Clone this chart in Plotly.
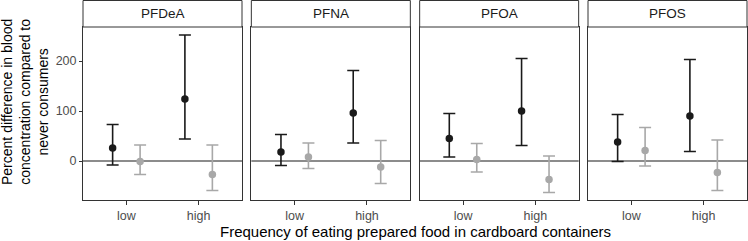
import plotly.graph_objects as go

# ---- data ----
pollutants = ["PFDeA", "PFNA", "PFOA", "PFOS"]
categories = ["low", "high"]
y_ticks = [0, 100, 200]

# series A (black) estimates, lower and upper bounds per pollutant, [low, high]
a_est = {"PFDeA": [26, 124], "PFNA": [18, 96], "PFOA": [45, 100], "PFOS": [38, 90]}
a_lo = {"PFDeA": [-8, 44], "PFNA": [-9, 36], "PFOA": [8, 31], "PFOS": [-1, 19]}
a_hi = {"PFDeA": [73, 252], "PFNA": [53, 181], "PFOA": [95, 205], "PFOS": [93, 203]}

# series B (grey)
b_est = {"PFDeA": [-1, -27], "PFNA": [8, -12], "PFOA": [3, -37], "PFOS": [21, -23]}
b_lo = {"PFDeA": [-27, -59], "PFNA": [-15, -45], "PFOA": [-22, -63], "PFOS": [-10, -59]}
b_hi = {"PFDeA": [32, 32], "PFNA": [36, 41], "PFOA": [35, 10], "PFOS": [67, 42]}

colors = {"a": "#1a1a1a", "b": "#a8a8a8"}
dodge = 0.19

W, H = 748, 241
L, R, T, B = 83, 1, 27, 41
pw = W - L - R
ph = H - T - B
panel_w = 159
gap = (pw - 4 * panel_w) / 3

fig = go.Figure()
shapes = []
annotations = []

for i, p in enumerate(pollutants):
    ax = "" if i == 0 else str(i + 1)
    x0 = i * (panel_w + gap) / pw
    x1 = x0 + panel_w / pw
    base = list(range(1, len(categories) + 1))
    for key, est, lo, hi, off in [("a", a_est, a_lo, a_hi, -dodge), ("b", b_est, b_lo, b_hi, dodge)]:
        e = est[p]
        fig.add_trace(go.Scatter(
            x=[b + off for b in base], y=e,
            mode="markers",
            marker=dict(color=colors[key], size=7.5),
            error_y=dict(type="data", symmetric=False,
                         array=[h - v for h, v in zip(hi[p], e)],
                         arrayminus=[v - l for v, l in zip(e, lo[p])],
                         color=colors[key], thickness=1.6, width=6),
            xaxis="x" + ax, yaxis="y" + ax, showlegend=False, hoverinfo="skip"))
    fig.update_layout(**{
        "xaxis" + ax: dict(domain=[x0, x1], range=[0.4, 2.6], tickvals=base, ticktext=categories,
                           showgrid=False, zeroline=False, showline=True, mirror=True,
                           linecolor="#333333", linewidth=1, ticks="outside", ticklen=4,
                           tickcolor="#333333", tickfont=dict(size=12.5, color="#4d4d4d"),
                           anchor="y" + ax, automargin=False),
        "yaxis" + ax: dict(domain=[0, 1], range=[-78, 268], tickvals=y_ticks,
                           showticklabels=(i == 0), showgrid=False, zeroline=False,
                           showline=True, mirror=True, linecolor="#333333", linewidth=1,
                           ticks="outside" if i == 0 else "", ticklen=3, tickcolor="#333333",
                           tickfont=dict(size=12.5, color="#4d4d4d"),
                           anchor="x" + ax, automargin=False),
    })
    shapes.append(dict(type="line", xref=f"x{ax} domain", yref=f"y{ax}", x0=0, x1=1, y0=0, y1=0,
                       line=dict(color="#1a1a1a", width=1.2), layer="below"))
    shapes.append(dict(type="rect", xref="paper", yref="paper", x0=x0, x1=x1,
                       y0=1, y1=1 + (T - 0.5) / ph, line=dict(color="#333333", width=1),
                       fillcolor="white"))
    annotations.append(dict(text=p, xref="paper", yref="paper", x=(x0 + x1) / 2,
                            y=1 + (T / 2) / ph, showarrow=False, xanchor="center",
                            yanchor="middle", font=dict(size=13.5, color="#1a1a1a")))

annotations.append(dict(text="Frequency of eating prepared food in cardboard containers",
                        xref="paper", yref="paper", x=0.5, y=-(231 - (T + ph)) / ph,
                        showarrow=False, xanchor="center", yanchor="middle",
                        font=dict(size=15, color="black")))
annotations.append(dict(text="Percent difference in blood<br>concentration compared to<br>never consumers",
                        xref="paper", yref="paper", x=(25 - L) / pw, y=(T + ph - 102) / ph,
                        textangle=-90, showarrow=False, xanchor="center", yanchor="middle",
                        font=dict(size=14, color="black")))

fig.update_layout(width=W, height=H, margin=dict(l=L, r=R, t=T, b=B, autoexpand=False),
                  paper_bgcolor="white", plot_bgcolor="white",
                  font=dict(family="Liberation Sans, Arial, sans-serif"),
                  shapes=shapes, annotations=annotations)

fig.write_html("out.html", config={"displayModeBar": False},
               post_script="document.body.style.margin='0';document.body.style.overflow='hidden';")
